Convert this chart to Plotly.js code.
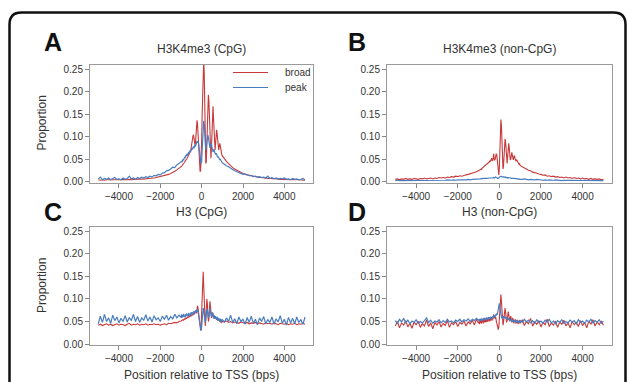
<!DOCTYPE html>
<html>
<head>
<meta charset="utf-8">
<script src="https://cdn.plot.ly/plotly-3.0.1.min.js"></script>
<style>html,body{margin:0;padding:0;background:#fff;}#chart{width:627px;height:382px;}</style>
</head>
<body>
<div id="chart"></div>
<script>
// Position relative to TSS (bp): 100bp bins on the flanks, 25bp bins near the TSS
const pos = [
-5000,-4900,-4800,-4700,-4600,-4500,-4400,-4300,-4200,-4100,
-4000,-3900,-3800,-3700,-3600,-3500,-3400,-3300,-3200,-3100,
-3000,-2900,-2800,-2700,-2600,-2500,-2400,-2300,-2200,-2100,
-2000,-1900,-1800,-1700,-1600,-1500,-1400,-1300,-1200,-1100,
-1000,
-975,-950,-925,-900,-875,-850,-825,-800,-775,-750,
-725,-700,-675,-650,-625,-600,-575,-550,-525,-500,
-475,-450,-425,-400,-375,-350,-325,-300,-275,-250,
-225,-200,-175,-150,-125,-100,-75,-50,-25,0,
25,50,75,100,125,150,175,200,225,250,
275,300,325,350,375,400,425,450,475,500,
525,550,575,600,625,650,675,700,725,750,
775,800,825,850,875,900,925,950,975,
1000,1100,1200,1300,1400,1500,1600,1700,1800,1900,
2000,2100,2200,2300,2400,2500,2600,2700,2800,2900,
3000,3100,3200,3300,3400,3500,3600,3700,3800,3900,
4000,4100,4200,4300,4400,4500,4600,4700,4800,4900,
5000];

// Panel A: H3K4me3 (CpG)
const broadA = [
.004,.003,.004,.003,.004,.004,.003,.004,.004,.003,
.004,.004,.005,.004,.004,.005,.004,.005,.005,.005,
.006,.005,.006,.006,.007,.007,.008,.008,.009,.010,
.011,.012,.013,.015,.016,.018,.020,.023,.026,.029,
.033,
.034,.035,.037,.038,.040,.041,.043,.045,.046,.048,
.050,.052,.054,.056,.058,.060,.063,.066,.070,.075,
.082,.092,.100,.104,.098,.088,.082,.085,.100,.122,
.136,.128,.100,.070,.045,.030,.022,.025,.045,.090,
.150,.210,.255,.270,.240,.160,.080,.040,.045,.080,
.130,.175,.193,.180,.140,.090,.060,.052,.075,.120,
.160,.167,.140,.100,.075,.070,.085,.108,.115,.105,
.088,.075,.070,.078,.085,.080,.070,.064,.060,
.057,.050,.045,.040,.035,.031,.028,.025,.022,.020,
.018,.016,.015,.013,.012,.011,.010,.010,.009,.009,
.008,.008,.007,.007,.007,.006,.006,.006,.005,.005,
.005,.005,.005,.004,.004,.004,.004,.004,.004,.003,
.003];
const peakA = [
.006,.010,.004,.007,.005,.008,.004,.006,.009,.005,
.006,.004,.008,.005,.007,.012,.006,.008,.005,.009,
.007,.010,.008,.011,.009,.012,.010,.014,.013,.016,
.015,.019,.020,.024,.025,.028,.032,.031,.037,.040,
.043,
.045,.043,.048,.050,.047,.053,.055,.052,.058,.056,
.060,.062,.058,.064,.066,.063,.068,.070,.067,.072,
.074,.071,.076,.078,.074,.080,.082,.078,.084,.088,
.090,.086,.090,.085,.078,.070,.060,.048,.040,.045,
.070,.100,.125,.135,.128,.105,.080,.070,.078,.092,
.100,.104,.098,.088,.080,.075,.078,.085,.082,.076,
.070,.066,.068,.072,.066,.062,.060,.063,.058,.056,
.054,.056,.051,.050,.048,.050,.046,.045,.043,
.042,.038,.035,.033,.029,.027,.024,.022,.021,.018,
.016,.017,.014,.013,.014,.011,.012,.010,.011,.009,
.010,.008,.012,.007,.009,.006,.008,.005,.007,.006,
.008,.005,.006,.004,.007,.005,.006,.004,.005,.007,
.004];

// Panel B: H3K4me3 (non-CpG)
const broadB = [
.005,.006,.004,.006,.005,.007,.005,.006,.005,.007,
.006,.005,.007,.006,.008,.006,.007,.008,.006,.008,
.007,.009,.008,.009,.008,.010,.009,.011,.010,.012,
.011,.013,.012,.014,.015,.016,.017,.019,.020,.022,
.024,
.024,.026,.025,.027,.028,.027,.030,.031,.030,.032,
.034,.033,.036,.035,.038,.037,.040,.039,.042,.041,
.044,.046,.045,.048,.052,.048,.046,.050,.062,.052,
.047,.050,.058,.062,.060,.050,.035,.020,.015,.030,
.070,.115,.138,.125,.085,.045,.028,.035,.060,.085,
.095,.088,.065,.045,.040,.055,.078,.085,.075,.058,
.048,.050,.062,.065,.058,.050,.048,.055,.058,.052,
.046,.045,.049,.047,.042,.043,.041,.038,.039,
.036,.033,.030,.028,.025,.024,.021,.020,.018,.017,
.016,.014,.015,.012,.013,.011,.012,.010,.011,.009,
.010,.008,.010,.008,.009,.007,.009,.007,.008,.006,
.008,.006,.007,.005,.007,.005,.006,.005,.006,.004,
.005];
const peakB = [
.002,.003,.002,.002,.003,.002,.002,.003,.002,.003,
.002,.002,.003,.002,.003,.002,.003,.003,.002,.003,
.003,.002,.003,.003,.003,.004,.003,.003,.004,.003,
.004,.004,.003,.004,.004,.005,.004,.005,.005,.005,
.006,
.006,.005,.006,.006,.007,.006,.006,.007,.006,.007,
.007,.006,.007,.007,.008,.007,.007,.008,.007,.008,
.008,.007,.008,.008,.009,.008,.008,.009,.009,.008,
.009,.009,.010,.009,.009,.008,.007,.007,.008,.010,
.011,.012,.012,.011,.010,.009,.010,.011,.010,.010,
.009,.010,.009,.009,.008,.009,.009,.008,.008,.009,
.008,.008,.007,.008,.007,.007,.008,.007,.007,.006,
.007,.006,.007,.006,.006,.006,.005,.006,.005,
.005,.005,.006,.005,.004,.005,.004,.004,.005,.004,
.004,.003,.004,.003,.004,.003,.003,.004,.003,.003,
.002,.003,.003,.002,.003,.002,.003,.002,.003,.002,
.002,.003,.002,.002,.003,.002,.002,.003,.002,.002,
.002];

// Panel C: H3 (CpG)
const broadC = [
.042,.044,.041,.043,.045,.042,.044,.041,.043,.045,
.042,.044,.043,.041,.044,.046,.042,.044,.043,.045,
.042,.044,.043,.045,.042,.044,.043,.045,.043,.044,
.042,.044,.045,.043,.046,.045,.047,.048,.047,.050,
.051,
.052,.051,.053,.054,.053,.055,.056,.055,.057,.058,
.057,.059,.060,.059,.061,.062,.060,.063,.064,.062,
.065,.066,.064,.067,.068,.066,.070,.074,.072,.068,
.075,.085,.080,.068,.055,.045,.035,.030,.040,.070,
.110,.150,.160,.130,.080,.045,.040,.055,.085,.100,
.090,.065,.050,.055,.080,.095,.085,.065,.058,.062,
.070,.068,.060,.056,.058,.062,.058,.055,.054,.056,
.053,.052,.054,.051,.050,.052,.049,.050,.048,
.050,.049,.051,.048,.050,.047,.049,.048,.046,.049,
.047,.046,.048,.045,.047,.046,.048,.045,.047,.046,
.044,.047,.045,.046,.044,.047,.045,.043,.046,.045,
.044,.046,.043,.045,.044,.046,.043,.045,.044,.046,
.044];
const peakC = [
.045,.062,.048,.066,.050,.058,.046,.064,.052,.060,
.047,.057,.050,.063,.049,.059,.052,.066,.050,.061,
.048,.058,.053,.065,.051,.060,.049,.063,.054,.058,
.050,.062,.055,.064,.053,.061,.056,.066,.058,.064,
.059,
.066,.058,.064,.060,.067,.061,.065,.059,.066,.062,
.068,.063,.066,.061,.069,.064,.067,.062,.070,.066,
.071,.065,.069,.067,.073,.068,.072,.070,.075,.071,
.074,.078,.072,.066,.060,.052,.044,.035,.030,.038,
.055,.072,.080,.075,.062,.052,.048,.056,.068,.078,
.074,.064,.058,.062,.075,.080,.072,.064,.060,.066,
.070,.062,.058,.064,.060,.056,.062,.058,.054,.060,
.055,.052,.058,.054,.050,.056,.052,.049,.055,
.054,.049,.058,.050,.064,.048,.056,.045,.060,.050,
.055,.044,.059,.048,.062,.046,.055,.043,.058,.050,
.061,.045,.054,.048,.060,.044,.056,.049,.063,.046,
.055,.042,.059,.047,.057,.045,.060,.048,.054,.044,
.060];

// Panel D: H3 (non-CpG)
const broadD = [
.040,.050,.036,.047,.042,.052,.038,.046,.035,.049,
.043,.051,.037,.045,.040,.053,.039,.047,.034,.048,
.042,.050,.038,.046,.041,.052,.037,.047,.043,.050,
.039,.048,.044,.051,.040,.049,.045,.053,.042,.055,
.046,
.050,.044,.053,.047,.055,.045,.052,.048,.056,.046,
.054,.049,.057,.048,.055,.050,.058,.049,.056,.052,
.059,.050,.057,.053,.060,.052,.062,.055,.066,.058,
.063,.056,.060,.052,.048,.042,.035,.032,.038,.055,
.080,.100,.110,.095,.070,.050,.042,.048,.062,.075,
.080,.070,.055,.048,.052,.065,.072,.066,.055,.050,
.058,.062,.055,.048,.053,.058,.050,.046,.054,.049,
.055,.045,.052,.047,.054,.044,.051,.046,.053,
.046,.054,.041,.050,.045,.057,.040,.049,.044,.052,
.038,.048,.043,.055,.039,.047,.042,.051,.037,.049,
.044,.053,.040,.047,.036,.050,.043,.048,.039,.052,
.041,.048,.036,.051,.044,.054,.040,.049,.043,.051,
.042];
const peakD = [
.052,.046,.055,.049,.057,.047,.053,.045,.051,.048,
.054,.046,.050,.047,.052,.058,.048,.053,.046,.051,
.049,.054,.047,.052,.048,.055,.049,.051,.047,.053,
.050,.055,.049,.054,.051,.056,.050,.055,.052,.057,
.053,
.055,.051,.056,.052,.057,.053,.055,.051,.057,.054,
.058,.053,.056,.054,.059,.055,.057,.054,.060,.056,
.058,.055,.061,.057,.059,.056,.062,.058,.063,.059,
.064,.061,.066,.063,.068,.065,.072,.080,.088,.090,
.082,.070,.064,.060,.058,.056,.060,.062,.058,.061,
.057,.060,.056,.059,.055,.058,.054,.057,.053,.056,
.052,.055,.051,.054,.050,.053,.049,.054,.050,.053,
.048,.052,.049,.053,.047,.052,.048,.051,.047,
.052,.048,.055,.049,.053,.047,.052,.046,.054,.048,
.051,.046,.053,.049,.055,.047,.051,.045,.052,.048,
.054,.046,.050,.047,.053,.049,.052,.045,.054,.048,
.051,.046,.053,.049,.055,.047,.052,.048,.054,.046,
.051];

const panelTitles = ["H3K4me3 (CpG)", "H3K4me3 (non-CpG)", "H3 (CpG)", "H3 (non-CpG)"];
const panelLetters = ["A", "B", "C", "D"];
const seriesNames = ["broad", "peak"];
const xTicks = [-4000, -2000, 0, 2000, 4000];
const yTicks = [0, 0.05, 0.10, 0.15, 0.20, 0.25];

const RED = '#c7393b', BLUE = '#4a7dc0';
const W = 627, H = 382;
const px = v => v / W, py = v => 1 - v / H;

const panels = [
  {red: broadA, blue: peakA, xa: 'x',  ya: 'y'},
  {red: broadB, blue: peakB, xa: 'x2', ya: 'y2'},
  {red: broadC, blue: peakC, xa: 'x3', ya: 'y3'},
  {red: broadD, blue: peakD, xa: 'x4', ya: 'y4'}
];
const data = [];
panels.forEach(p => {
  data.push({x: pos, y: p.red, xaxis: p.xa, yaxis: p.ya, type: 'scatter', mode: 'lines',
    name: seriesNames[0], line: {color: RED, width: 1.1}, showlegend: false, hoverinfo: 'skip'});
  data.push({x: pos, y: p.blue, xaxis: p.xa, yaxis: p.ya, type: 'scatter', mode: 'lines',
    name: seriesNames[1], line: {color: BLUE, width: 1.2}, showlegend: false, hoverinfo: 'skip'});
});

const FONT = 'Liberation Sans, Arial, Helvetica, sans-serif';
const colL = [px(90), px(313.3)], colR = [px(387), px(611.7)];
const rowT = [py(182.5), py(64.5)], rowB = [py(345), py(226.7)];

function xax(domain, anchor) {
  return {domain, anchor, range: [-5400, 5400], tickvals: xTicks, ticks: 'outside', ticklen: 4,
    tickcolor: '#888', showline: true, mirror: true, linecolor: '#9a9a9a', linewidth: 1,
    showgrid: false, zeroline: false, tickfont: {size: 10, color: '#333', family: FONT}};
}
function yax(domain, anchor) {
  return {domain, anchor, range: [-0.002, 0.26], tickvals: yTicks, tickformat: '.2f', ticks: 'outside',
    ticklen: 4, tickcolor: '#888', showline: true, mirror: true, linecolor: '#9a9a9a', linewidth: 1,
    showgrid: false, zeroline: false, tickfont: {size: 10, color: '#333', family: FONT}};
}

const ann = [];
const titlePos = [[201.7, 49], [499.3, 49], [201.7, 212], [499.3, 212]];
panelTitles.forEach((t, i) => ann.push({text: t, x: px(titlePos[i][0]), y: py(titlePos[i][1]),
  xref: 'paper', yref: 'paper', showarrow: false, xanchor: 'center', yanchor: 'middle',
  font: {size: 12, color: '#333', family: FONT}}));
const letterPos = [[53, 41.5], [357, 41.5], [53, 212], [357, 212]];
panelLetters.forEach((t, i) => ann.push({text: '<b>' + t + '</b>', x: px(letterPos[i][0]), y: py(letterPos[i][1]),
  xref: 'paper', yref: 'paper', showarrow: false, xanchor: 'center', yanchor: 'middle',
  font: {size: 25, color: '#111', family: FONT}}));
[[42, 123.5], [42, 286]].forEach(p => ann.push({text: 'Proportion', x: px(p[0]), y: py(p[1]),
  xref: 'paper', yref: 'paper', showarrow: false, textangle: -90, xanchor: 'center', yanchor: 'middle',
  font: {size: 12, color: '#333', family: FONT}}));
[201.7, 499.3].forEach(x => ann.push({text: 'Position relative to TSS (bps)', x: px(x), y: py(375),
  xref: 'paper', yref: 'paper', showarrow: false, xanchor: 'center', yanchor: 'middle',
  font: {size: 12, color: '#333', family: FONT}}));
// legend text
[[seriesNames[0], 72.5], [seriesNames[1], 87.5]].forEach(l => ann.push({text: l[0], x: px(283), y: py(l[1]),
  xref: 'paper', yref: 'paper', showarrow: false, xanchor: 'left', yanchor: 'middle',
  font: {size: 10, color: '#333', family: FONT}}));

const shapes = [
  {type: 'line', xref: 'paper', yref: 'paper', x0: px(233), x1: px(268), y0: py(72.5), y1: py(72.5), line: {color: RED, width: 1}},
  {type: 'line', xref: 'paper', yref: 'paper', x0: px(233), x1: px(268), y0: py(87.5), y1: py(87.5), line: {color: BLUE, width: 1}},
  {type: 'path', xref: 'paper', yref: 'paper', line: {color: '#111', width: 2.5},
   path: `M ${px(9.5)},${py(400)} L ${px(9.5)},${py(24.5)} Q ${px(9.5)},${py(12.5)} ${px(21.5)},${py(12.5)} ` +
         `L ${px(613.5)},${py(12.5)} Q ${px(625.5)},${py(12.5)} ${px(625.5)},${py(24.5)} L ${px(625.5)},${py(400)}`}
];

const layout = {
  width: W, height: H, margin: {l: 0, r: 0, t: 0, b: 0},
  paper_bgcolor: '#fff', plot_bgcolor: '#fff', showlegend: false,
  font: {family: FONT, color: '#333'},
  xaxis: xax(colL, 'y'), yaxis: yax(rowT, 'x'),
  xaxis2: xax(colR, 'y2'), yaxis2: yax(rowT, 'x2'),
  xaxis3: xax(colL, 'y3'), yaxis3: yax(rowB, 'x3'),
  xaxis4: xax(colR, 'y4'), yaxis4: yax(rowB, 'x4'),
  annotations: ann, shapes: shapes
};
Plotly.newPlot('chart', data, layout, {staticPlot: true, displayModeBar: false});
</script>
</body>
</html>
